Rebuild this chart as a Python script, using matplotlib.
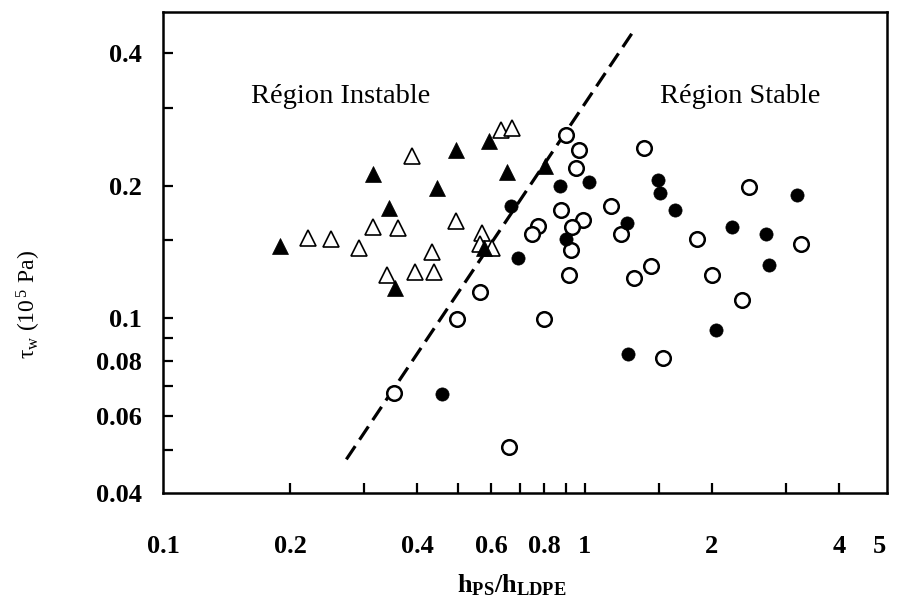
import matplotlib
matplotlib.use("Agg")
import matplotlib.pyplot as plt
from matplotlib.ticker import FixedLocator, FixedFormatter, NullFormatter

plt.rcParams['font.family'] = ['Liberation Serif', 'DejaVu Serif']
plt.rcParams['mathtext.fontset'] = 'custom'
plt.rcParams['mathtext.rm'] = 'Liberation Serif'
plt.rcParams['mathtext.it'] = 'Liberation Serif:italic'
plt.rcParams['mathtext.bf'] = 'Liberation Serif:bold'

# ---- data ----
tri_filled_x = [0.189, 0.314, 0.344, 0.354, 0.447, 0.496, 0.593, 0.654, 0.804, 0.577]
tri_filled_y = [0.146, 0.212, 0.178, 0.117, 0.197, 0.241, 0.252, 0.215, 0.222, 0.1445]

tri_open_x = [0.221, 0.250, 0.291, 0.314, 0.361, 0.390, 0.435, 0.340, 0.396, 0.440,
              0.496, 0.633, 0.672, 0.571, 0.564, 0.603]
tri_open_y = [0.152, 0.1515, 0.144, 0.161, 0.160, 0.234, 0.141, 0.125, 0.127, 0.127,
              0.166, 0.267, 0.270, 0.156, 0.147, 0.144]

circ_filled_x = [0.668, 0.873, 1.022, 0.902, 0.694, 1.488, 1.504, 1.632, 1.257, 2.226,
                 2.693, 2.737, 3.188, 1.264, 2.040, 0.459]
circ_filled_y = [0.180, 0.199, 0.204, 0.1515, 0.137, 0.2055, 0.192, 0.1755, 0.164, 0.161,
                 0.155, 0.132, 0.190, 0.0828, 0.0939, 0.0671]

circ_open_x = [0.902, 0.968, 0.952, 1.379, 1.152, 0.877, 0.989, 0.932, 0.774, 0.749,
               0.927, 1.216, 1.840, 2.442, 3.258, 0.917, 1.432, 1.306, 1.996, 0.564,
               2.363, 0.498, 0.800, 1.529, 0.352, 0.661]
circ_open_y = [0.260, 0.241, 0.219, 0.244, 0.180, 0.1755, 0.167, 0.161, 0.162, 0.155,
               0.143, 0.1555, 0.1515, 0.198, 0.147, 0.125, 0.131, 0.123, 0.125, 0.1146,
               0.110, 0.0995, 0.0995, 0.081, 0.0674, 0.0508]

boundary_x = [0.272, 1.32]
boundary_y = [0.0477, 0.457]

x_label_ticks = [0.1, 0.2, 0.4, 0.6, 0.8, 1, 2, 4, 5]
x_label_text = ['0.1', '0.2', '0.4', '0.6', '0.8', '1', '2', '4', '5']
x_mark_ticks = [0.2, 0.3, 0.4, 0.5, 0.6, 0.7, 0.8, 0.9, 1, 1.5, 2, 3, 4]
y_label_ticks = [0.04, 0.06, 0.08, 0.1, 0.2, 0.4]
y_label_text = ['0.04', '0.06', '0.08', '0.1', '0.2', '0.4']
y_mark_ticks = [0.05, 0.06, 0.07, 0.08, 0.09, 0.1, 0.15, 0.2, 0.3, 0.4]

# ---- figure ----
fig = plt.figure(figsize=(8.97, 6.05), dpi=100)
ax = fig.add_axes([163/897, 1-493/605, (887-163)/897, (493-12)/605])
ax.set_xscale('log')
ax.set_yscale('log')
ax.set_xlim(0.1, 5.2)
ax.set_ylim(0.04, 0.496)

ax.plot(boundary_x, boundary_y, color='black', lw=2.3, linestyle=(0, (5, 2.4)), zorder=2)

ax.plot(circ_open_x, circ_open_y, linestyle='none', marker='o', ms=10.5,
        mfc='white', mec='black', mew=1.8, zorder=3)
ax.plot(circ_filled_x, circ_filled_y, linestyle='none', marker='o', ms=9.5,
        mfc='black', mec='black', mew=0.5, zorder=4)
ax.plot(tri_open_x, tri_open_y, linestyle='none', marker='^', ms=11,
        mfc='white', mec='black', mew=1.2, zorder=3)
ax.plot(tri_filled_x, tri_filled_y, linestyle='none', marker='^', ms=11,
        mfc='black', mec='black', mew=0.5, zorder=4)

# ticks
ax.xaxis.remove_overlapping_locs = False
ax.yaxis.remove_overlapping_locs = False
ax.xaxis.set_major_locator(FixedLocator(x_label_ticks))
ax.xaxis.set_major_formatter(FixedFormatter(x_label_text))
ax.xaxis.set_minor_locator(FixedLocator(x_mark_ticks))
ax.xaxis.set_minor_formatter(NullFormatter())
ax.yaxis.set_major_locator(FixedLocator(y_label_ticks))
ax.yaxis.set_major_formatter(FixedFormatter(y_label_text))
ax.yaxis.set_minor_locator(FixedLocator(y_mark_ticks))
ax.yaxis.set_minor_formatter(NullFormatter())

ax.tick_params(axis='x', which='major', length=0, pad=30, labelsize=19)
ax.tick_params(axis='y', which='major', length=0, pad=15, labelsize=19)
ax.tick_params(which='minor', direction='in', length=7, width=1.6, color='black')
for lab in ax.get_xticklabels() + ax.get_yticklabels():
    lab.set_fontweight('bold')

for sp in ax.spines.values():
    sp.set_linewidth(1.8)
    sp.set_color('black')

ax.text(0.2459, 0.811, 'Région Instable', transform=ax.transAxes,
        ha='center', va='baseline', fontsize=20.5)
ax.text(0.797, 0.811, 'Région Stable', transform=ax.transAxes,
        ha='center', va='baseline', fontsize=20.5)

fig.text(0.570, 0.020, r'$\mathbf{h}_{\mathbf{PS}}\mathbf{/h}_{\mathbf{LDPE}}$',
         ha='center', va='baseline', fontsize=19)
fig.text(0.032, 0.4975, 'τ$_{\\mathrm{w}}$ (10$^{\\,\\mathrm{5}}$ Pa)', rotation=90,
         ha='center', va='center', fontsize=17)

fig.savefig('out.png', dpi=100, facecolor='white')
